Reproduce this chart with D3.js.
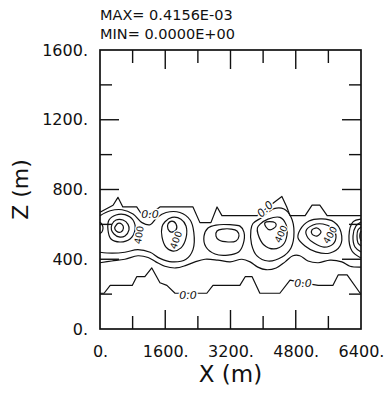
<!DOCTYPE html>
<html><head><meta charset="utf-8">
<script src="https://cdn.jsdelivr.net/npm/d3@7"></script>
<style>body{margin:0;background:#fff}svg{display:block}</style>
</head><body>
<svg id="c" width="387" height="394"></svg>
<script>
// ---- data ----
const headerLines = ["MAX= 0.4156E-03", "MIN= 0.0000E+00"];
const xTickLabels = [0, 1600, 3200, 4800, 6400];
const zTickLabels = [0, 400, 800, 1200, 1600];
const xMajorInner = [1600, 3200, 4800];
const xMinorInner = [800, 2400, 4000, 5600];
const zMajorInner = [400, 800, 1200];
const zMinorInner = [200, 600, 1000, 1400];
const xTitle = "X (m)";
const zTitle = "Z (m)";

// contour lines, [X (m), Z (m)]
const zeroTop = [[0,670],[320,710],[440,755],[560,700],[900,700],[1000,665],[1230,660],[1470,700],[2280,700],[2450,610],[2720,610],[2870,700],[2990,650],[3850,650],[4070,690],[4290,730],[4460,760],[4580,700],[4660,650],[5030,650],[5200,710],[5390,710],[5570,650],[6400,650]];
const zeroBottom = [[0,205],[100,205],[250,250],[790,250],[900,300],[1100,300],[1270,350],[1470,265],[1640,250],[1840,205],[2160,205],[2620,205],[2770,250],[3430,250],[3560,300],[3730,300],[3920,205],[4410,205],[4660,280],[4980,265],[5350,250],[5710,250],[5840,310],[6060,310],[6380,205],[6400,205]];
const bandLow = [[0,380],[290,390],[610,400],[930,420],[1180,410],[1370,385],[1590,360],[1860,350],[2110,365],[2330,385],[2575,400],[2890,395],[3190,385],[3480,400],[3680,385],[3870,355],[4070,340],[4320,350],[4540,385],[4730,420],[4900,420],[5100,390],[5350,380],[5640,395],[5930,385],[6130,360],[6400,355]];
const peanut = [[0,650],[250,678],[540,684],[810,660],[1030,610],[1230,598],[1400,640],[1620,668],[1960,668],[2210,625],[2300,555],[2280,455],[2110,400],[1765,385],[1470,405],[1230,440],[930,455],[610,440],[295,435],[0,440]];
const edgeLeft = [[0,612],[50,600],[74,579],[50,558],[0,548]];
const blobA2 = [[221,625],[392,654],[613,656],[809,625],[858,568],[736,516],[490,499],[270,516],[196,568]];
const blobA1 = [[294,600],[392,625],[564,625],[687,600],[711,568],[613,534],[466,528],[343,545],[280,568]];
const blobA0 = [[380,590],[441,606],[539,600],[575,579],[515,556],[405,560],[360,579]];
const blobB1 = [[1594,615],[1765,640],[1986,630],[2109,591],[2109,522],[1986,465],[1790,447],[1618,470],[1520,528],[1520,585]];
const blobB0 = [[1667,602],[1765,619],[1864,602],[1864,568],[1741,556],[1667,573]];
const ellipseOuter = [[2648,579],[2844,596],[3188,598],[3433,590],[3530,556],[3510,487],[3400,442],[3139,424],[2820,430],[2599,470],[2550,533]];
const ellipseInner = [[2869,562],[3016,573],[3213,573],[3360,562],[3408,533],[3335,505],[3139,499],[2918,510],[2844,533]];
const blobC2 = [[3750,605],[3972,640],[4266,690],[4512,688],[4683,642],[4757,556],[4683,465],[4463,413],[4120,390],[3850,419],[3715,487],[3700,568]];
const blobC1 = [[3920,600],[4120,630],[4414,640],[4561,600],[4585,539],[4487,482],[4266,459],[4021,482],[3874,545],[3860,580]];
const blobC0 = [[4046,610],[4291,610],[4315,590],[4168,568],[4070,585]];
const blobD2 = [[4904,568],[5125,619],[5443,631],[5738,614],[5909,556],[5885,476],[5640,436],[5296,442],[5027,476],[4855,522]];
const blobD1 = [[5051,562],[5223,596],[5468,602],[5689,579],[5787,533],[5713,487],[5492,470],[5247,493],[5100,522]];
const blobD0 = [[5198,568],[5321,579],[5419,556],[5321,533],[5198,545]];
const edgeR1 = [[6400,630],[6204,614],[6105,533],[6179,447],[6400,407]];
const edgeR2 = [[6400,614],[6277,591],[6204,533],[6253,470],[6400,442]];
const edgeR3 = [[6400,585],[6326,568],[6302,533],[6326,493],[6400,476]];
const edgeR4 = [[6400,562],[6375,545],[6375,522],[6400,505]];

const zeroLabelPos = [[1226,660],[4046,688],[2158,195],[4980,264]];
const zeroLabelText = "0.0";
const label400Pos = [[956,539],[1864,510],[4438,545],[5640,539]];
const label400Text = "400";

// ---- drawing ----
const svg = d3.select("#c");
const W = 387, H = 394;
const pL = 100, pR = 361, pT = 50, pB = 329;
const x = d3.scaleLinear().domain([0, 6400]).range([pL, pR]);
const y = d3.scaleLinear().domain([0, 1600]).range([pB, pT]);
const FONT = "'DejaVu Sans', sans-serif";
const INK = "#111";

svg.append("rect").attr("width", W).attr("height", H).attr("fill", "#fff");

// header
svg.selectAll("text.hdr").data(headerLines).join("text")
  .attr("class", "hdr")
  .attr("x", pL).attr("y", (d, i) => 19.5 + i * 19)
  .attr("font-family", FONT).attr("font-size", 14.5).attr("fill", INK)
  .text(d => d);

// contours
const lineOpen = d3.line().x(d => x(d[0])).y(d => y(d[1]));
const lineSmooth = d3.line().x(d => x(d[0])).y(d => y(d[1])).curve(d3.curveCatmullRom.alpha(0.5));
const lineClosed = d3.line().x(d => x(d[0])).y(d => y(d[1])).curve(d3.curveCatmullRomClosed.alpha(0.5));

const cg = svg.append("g").attr("fill", "none").attr("stroke", INK)
  .attr("stroke-width", 1.2).attr("stroke-linejoin", "round");
[zeroTop, zeroBottom].forEach(d => cg.append("path").attr("d", lineOpen(d)));
[bandLow, peanut, edgeLeft, edgeR1, edgeR2, edgeR3, edgeR4].forEach(d => cg.append("path").attr("d", lineSmooth(d)));
[blobA2, blobA1, blobA0, blobB1, blobB0, ellipseOuter, ellipseInner,
 blobC2, blobC1, blobC0, blobD2, blobD1, blobD0].forEach(d => cg.append("path").attr("d", lineClosed(d)));

// contour labels
const zeroAngles = [0, -45, 0, 0];
svg.selectAll("text.z0").data(zeroLabelPos).join("text")
  .attr("class", "z0")
  .attr("transform", (d, i) => `translate(${x(d[0])},${y(d[1])}) rotate(${zeroAngles[i]})`)
  .attr("text-anchor", "middle").attr("dy", "0.35em")
  .attr("font-family", FONT).attr("font-size", 11).attr("font-style", "italic")
  .attr("fill", INK).attr("stroke", "#fff").attr("stroke-width", 3).attr("paint-order", "stroke")
  .text(zeroLabelText);
const angles400 = [-80, -70, -65, -60];
svg.selectAll("text.l4").data(label400Pos).join("text")
  .attr("class", "l4")
  .attr("transform", (d, i) => `translate(${x(d[0])},${y(d[1])}) rotate(${angles400[i]})`)
  .attr("text-anchor", "middle").attr("dy", "0.35em")
  .attr("font-family", FONT).attr("font-size", 9.5)
  .attr("fill", INK).attr("stroke", "#fff").attr("stroke-width", 2.5).attr("paint-order", "stroke")
  .text(label400Text);

// frame
svg.append("rect").attr("x", pL).attr("y", pT).attr("width", pR - pL).attr("height", pB - pT)
  .attr("fill", "none").attr("stroke", INK).attr("stroke-width", 1.7);

// inward tick marks, positioned through the scales
const tg = svg.append("g").attr("class", "inticks");
function addXTicks(vals, len) {
  vals.forEach(v => {
    tg.append("line").attr("x1", x(v)).attr("x2", x(v)).attr("y1", pB).attr("y2", pB - len)
      .attr("stroke", INK).attr("stroke-width", 1.4);
    tg.append("line").attr("x1", x(v)).attr("x2", x(v)).attr("y1", pT).attr("y2", pT + len)
      .attr("stroke", INK).attr("stroke-width", 1.4);
  });
}
function addZTicks(vals, len) {
  vals.forEach(v => {
    tg.append("line").attr("y1", y(v)).attr("y2", y(v)).attr("x1", pL).attr("x2", pL + len)
      .attr("stroke", INK).attr("stroke-width", 1.4);
    tg.append("line").attr("y1", y(v)).attr("y2", y(v)).attr("x1", pR).attr("x2", pR - len)
      .attr("stroke", INK).attr("stroke-width", 1.4);
  });
}
addXTicks(xMajorInner, 19);
addXTicks(xMinorInner, 13);
addZTicks(zMajorInner, 19);
addZTicks(zMinorInner, 12);

// tick labels
const gx = svg.append("g").attr("transform", `translate(0,${pB})`)
  .call(d3.axisBottom(x).tickValues(xTickLabels).tickSize(0).tickPadding(17).tickFormat(d => d + "."));
gx.select(".domain").remove();
gx.selectAll("text").attr("font-family", FONT).attr("font-size", 16).attr("fill", INK);

const gy = svg.append("g").attr("transform", `translate(${pL},0)`)
  .call(d3.axisLeft(y).tickValues(zTickLabels).tickSize(0).tickPadding(12).tickFormat(d => d + "."));
gy.select(".domain").remove();
gy.selectAll("text").attr("font-family", FONT).attr("font-size", 16).attr("fill", INK);

// axis titles
svg.append("text").attr("x", (pL + pR) / 2).attr("y", 382)
  .attr("text-anchor", "middle").attr("font-family", FONT).attr("font-size", 23).attr("fill", INK)
  .text(xTitle);
svg.append("text").attr("transform", `translate(28,${(pT + pB) / 2}) rotate(-90)`)
  .attr("text-anchor", "middle").attr("font-family", FONT).attr("font-size", 22).attr("fill", INK)
  .text(zTitle);
</script>
</body></html>
